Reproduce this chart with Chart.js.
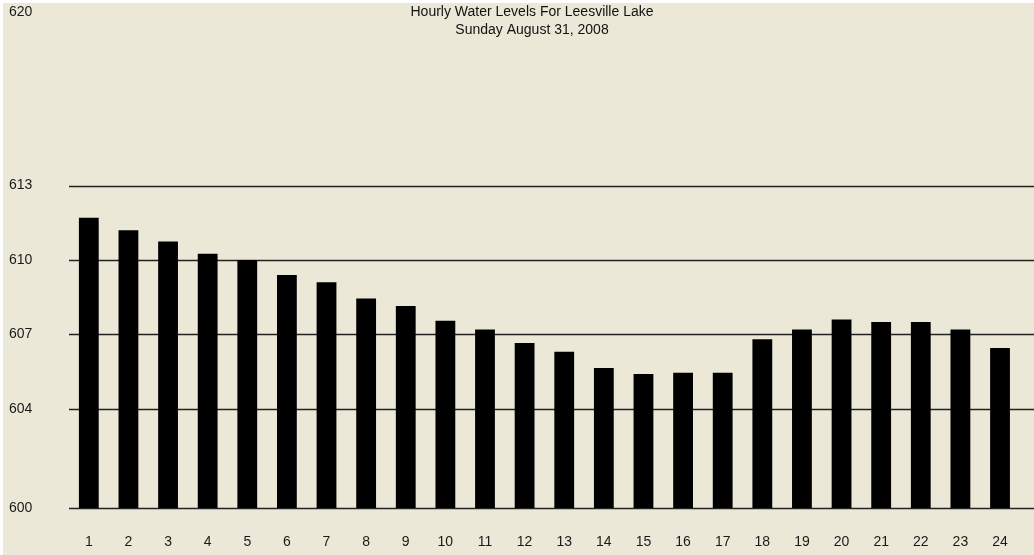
<!DOCTYPE html>
<html>
<head>
<meta charset="utf-8">
<script src="https://cdn.jsdelivr.net/npm/chart.js@4"></script>
<style>
  html, body { margin: 0; padding: 0; background: #ffffff; }
  #wrap { position: absolute; left: 3px; top: 3px; width: 1031px; height: 552px; background: #ebe8d8; }
</style>
</head>
<body>
<div id="wrap"><canvas id="Level-Chart" width="1031" height="552"></canvas></div>
<script>
const hours = ['1','2','3','4','5','6','7','8','9','10','11','12','13','14','15','16','17','18','19','20','21','22','23','24'];
const levels = [611.7, 611.2, 610.75, 610.25, 610.0, 609.4, 609.1, 608.45, 608.15, 607.55, 607.2, 606.65,
                606.3, 605.65, 605.4, 605.45, 605.45, 606.8, 607.2, 607.6, 607.5, 607.5, 607.2, 606.45];
const yTicks = [600, 604, 607, 610, 613, 620];
const gridValues = [600, 604, 607, 610, 613];
const titleLines = ['Hourly Water Levels For Leesville Lake', 'Sunday August 31, 2008'];

Chart.defaults.font.family = '"Liberation Sans", Arial, sans-serif';
Chart.defaults.font.size = 14;
Chart.defaults.color = '#1a1a1a';

// horizontal rules run past the plot area to the right edge, like the original
const hLines = {
  id: 'hLines',
  beforeDatasetsDraw(chart) {
    const ctx = chart.ctx;
    const y = chart.scales.y;
    ctx.save();
    ctx.strokeStyle = '#222';
    ctx.lineWidth = 1.6;
    gridValues.forEach(v => {
      const py = Math.round(y.getPixelForValue(v)) + 0.5;
      ctx.beginPath();
      ctx.moveTo(chart.chartArea.left, py);
      ctx.lineTo(chart.width, py);
      ctx.stroke();
    });
    ctx.restore();
  }
};

// title sits over the plot area
const overTitle = {
  id: 'overTitle',
  afterDraw(chart) {
    const ctx = chart.ctx;
    ctx.save();
    ctx.fillStyle = '#111';
    ctx.font = '14px "Liberation Sans", Arial, sans-serif';
    ctx.textAlign = 'center';
    ctx.textBaseline = 'middle';
    titleLines.forEach((t, i) => ctx.fillText(t, 529, 9 + i * 18));
    ctx.restore();
  }
};

const ctx = document.getElementById('Level-Chart').getContext('2d');
const LevelChart = new Chart(ctx, {
  type: 'bar',
  data: {
    labels: hours,
    datasets: [{
      data: levels,
      backgroundColor: '#000000',
      borderColor: '#555',
      borderWidth: 0,
      barPercentage: 0.5,
      categoryPercentage: 1.0
    }]
  },
  options: {
    responsive: false,
    animation: false,
    layout: {
      padding: { left: 6, right: 9, top: 9, bottom: 0 }
    },
    scales: {
      x: {
        grid: { display: false, drawTicks: false, tickLength: 0 },
        border: { display: false },
        ticks: { padding: 26, maxRotation: 0, autoSkip: false },
        afterFit: function(scale) { scale.height = 47; }
      },
      y: {
        min: 600,
        max: 620,
        grid: { display: false, drawTicks: false, tickLength: 0 },
        border: { display: false },
        ticks: { crossAlign: 'far', padding: 0 },
        afterBuildTicks: function(scale) {
          scale.ticks = yTicks.map(v => ({ value: v }));
        },
        afterFit: function(scale) { scale.width = 60; }
      }
    },
    plugins: {
      legend: { display: false },
      tooltip: { enabled: false }
    }
  },
  plugins: [hLines, overTitle]
});
</script>
</body>
</html>
